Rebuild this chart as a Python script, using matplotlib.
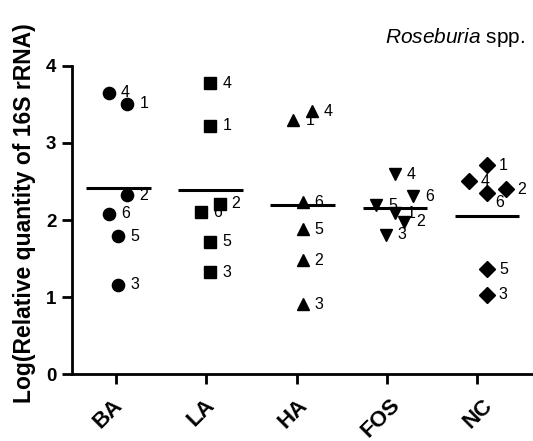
import numpy as np
import matplotlib
matplotlib.use('Agg')
import matplotlib.pyplot as plt
import matplotlib.transforms as mtransforms

plt.rcParams['font.family'] = ['Liberation Sans', 'DejaVu Sans']
plt.rcParams['mathtext.fontset'] = 'custom'
plt.rcParams['mathtext.rm'] = 'Liberation Sans'
plt.rcParams['mathtext.it'] = 'Liberation Sans:italic'

# groups and sample values (samples 1..6 in each group)
groups = ['BA', 'LA', 'HA', 'FOS', 'NC']
sample_ids = ['1', '2', '3', '4', '5', '6']
ba = [3.51, 2.32, 1.16, 3.65, 1.79, 2.08]
la = [3.22, 2.21, 1.32, 3.77, 1.72, 2.10]
ha = [3.29, 1.48, 0.91, 3.41, 1.88, 2.23]
fos = [2.09, 1.98, 1.81, 2.59, 2.19, 2.31]
nc = [2.71, 2.40, 1.03, 2.50, 1.36, 2.35]
values = [ba, la, ha, fos, nc]

# horizontal spread of the points within a group (layout only)
jitter = [
    [0.1, 0.1, 0.0, -0.1, 0.0, -0.1],
    [0.0, 0.1, 0.0, 0.0, 0.0, -0.1],
    [-0.1, 0.0, 0.0, 0.1, 0.0, 0.0],
    [0.0, 0.1, -0.1, 0.0, -0.2, 0.2],
    [0.0, 0.2, 0.0, -0.2, 0.0, 0.0],
]
markers = ['o', 's', '^', 'v', 'D']
msizes = [8.8, 8.2, 9.2, 9.2, 8.2]

fig = plt.figure(figsize=(5.33, 4.41), dpi=100)
ax = fig.add_axes([0.1345, 0.1512, 0.8655, 0.6998])

for i, (vals, jit) in enumerate(zip(values, jitter)):
    xs = i + np.array(jit)
    ax.plot(xs, vals, linestyle='none', marker=markers[i], color='black',
            markersize=msizes[i], zorder=3, clip_on=False)
    for x, y, lab in zip(xs, vals, sample_ids):
        if groups[i] == 'NC' and lab == '6':
            off = (6, -7)
        else:
            off = (8.5, 0)
        ax.annotate(lab, (x, y), xytext=off, textcoords='offset points',
                    ha='left', va='center', fontsize=11.5, zorder=2)
    m = np.mean(vals)
    ax.hlines(m, i - 0.35, i + 0.35, color='black', linewidth=2.2, zorder=4)

ax.set_xlim(-0.505, 4.498)
ax.set_ylim(0, 4)
ax.set_yticks([0, 1, 2, 3, 4])
ax.set_yticklabels(['0', '1', '2', '3', '4'], fontsize=13.5, fontweight='bold')
ax.set_xticks([0.98 * i - 0.025 for i in range(len(groups))])
ax.set_xticklabels(groups, fontsize=16, fontweight='bold', rotation=45,
                   ha='right', va='center', rotation_mode='anchor')
ax.tick_params(axis='both', direction='out', length=7, width=2)
ax.tick_params(axis='y', pad=4)
ax.tick_params(axis='x', pad=13)
for i, lbl in enumerate(ax.get_xticklabels()):
    shift = mtransforms.ScaledTranslation((3 + 2.2 * i) / 100, 0,
                                          fig.dpi_scale_trans)
    lbl.set_transform(lbl.get_transform() + shift)
for side in ['top', 'right']:
    ax.spines[side].set_visible(False)
for side in ['left', 'bottom']:
    ax.spines[side].set_linewidth(2)

ax.set_ylabel('Log(Relative quantity of 16S rRNA)', fontsize=16.5,
              fontweight='bold')
ax.yaxis.set_label_coords(-0.077, 0.523)
fig.text(0.985, 0.916, r'$\it{Roseburia}$ spp.', ha='right', va='center',
         fontsize=15)

fig.savefig('out.png', dpi=100)
